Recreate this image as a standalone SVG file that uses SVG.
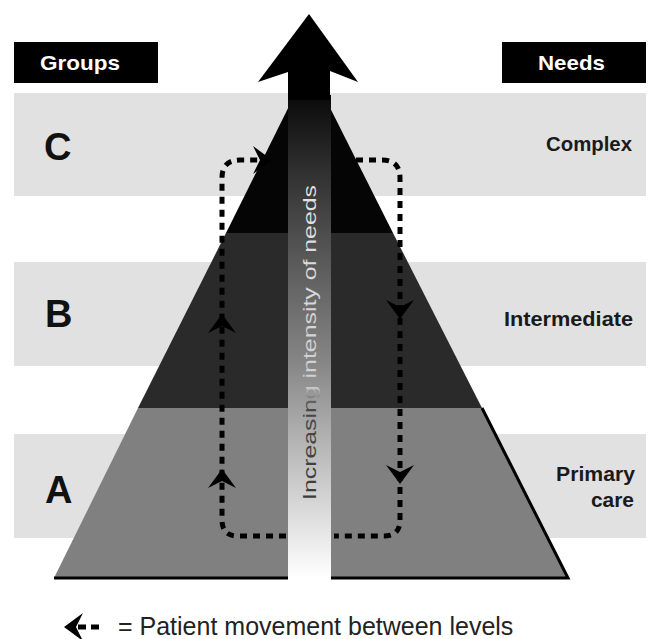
<svg xmlns="http://www.w3.org/2000/svg" width="648" height="639" viewBox="0 0 648 639">
<defs>
<style>
.band{fill:#e1e1e1}
.hdr{fill:#000}
.hdrtxt{font-family:"Liberation Sans",Arial,sans-serif;font-weight:bold;font-size:21px;fill:#fff}
.grp{font-family:"Liberation Sans",Arial,sans-serif;font-weight:bold;font-size:38px;fill:#111}
.need{font-family:"Liberation Sans",Arial,sans-serif;font-weight:bold;font-size:21px;fill:#1a1a1a}
.loop{fill:none;stroke:#000;stroke-width:5;stroke-dasharray:7 6}
.legend{font-family:"Liberation Sans",Arial,sans-serif;font-size:25px;fill:#222}
.strip-text{font-family:"Liberation Sans",Arial,sans-serif;font-size:19px}
</style>
<linearGradient id="stripGrad" gradientUnits="userSpaceOnUse" x1="0" y1="95" x2="0" y2="578">
<stop offset="0" stop-color="#0a0a0a"/>
<stop offset="0.15" stop-color="#2e2e2e"/>
<stop offset="0.3" stop-color="#505050"/>
<stop offset="0.55" stop-color="#858585"/>
<stop offset="0.75" stop-color="#bdbdbd"/>
<stop offset="1" stop-color="#ffffff"/>
</linearGradient>
<linearGradient id="textGrad" gradientUnits="userSpaceOnUse" x1="0" y1="0" x2="315" y2="0">
<stop offset="0" stop-color="#3c3c3c"/>
<stop offset="0.3" stop-color="#484848"/>
<stop offset="0.36" stop-color="#cfcfcf"/>
<stop offset="1" stop-color="#e2e2e2"/>
</linearGradient>
<path id="ah" d="M0,0 L14,19 L0,12 L-14,19 Z" fill="#000"/>
</defs>

<g id="bands">
<rect class="band" x="14" y="93" width="632" height="103"/>
<rect class="band" x="14" y="262" width="632" height="104"/>
<rect class="band" x="14" y="434" width="632" height="104"/>
</g>

<g id="header-groups">
<rect class="hdr" x="14" y="42" width="144" height="41"/>
<text class="hdrtxt" x="40" y="70" textLength="80" lengthAdjust="spacingAndGlyphs">Groups</text>
</g>
<g id="header-needs">
<rect class="hdr" x="502" y="42" width="144" height="41"/>
<text class="hdrtxt" x="538" y="70" textLength="67" lengthAdjust="spacingAndGlyphs">Needs</text>
</g>

<g id="group-labels">
<text class="grp" x="44" y="160">C</text>
<text class="grp" x="45" y="327">B</text>
<text class="grp" x="45" y="503">A</text>
</g>

<g id="need-labels">
<text class="need" x="546" y="151" textLength="86" lengthAdjust="spacingAndGlyphs">Complex</text>
<text class="need" x="504" y="326" textLength="129" lengthAdjust="spacingAndGlyphs">Intermediate</text>
<text class="need" x="556" y="481" textLength="79" lengthAdjust="spacingAndGlyphs">Primary</text>
<text class="need" x="591" y="507" textLength="43" lengthAdjust="spacingAndGlyphs">care</text>
</g>

<g id="level-a">
<polygon points="138,408 482,408 568,578 54,578" fill="#808080"/>
<polyline points="482,408 568,578 54,578" fill="none" stroke="#000" stroke-width="3"/>
</g>
<g id="level-b">
<polygon points="226,233 393,233 482,408 138,408" fill="#2a2a2a"/>
</g>
<g id="level-c">
<polygon points="309,66 393,233 226,233" fill="#050505"/>
</g>

<g id="connectors">
<path class="loop" d="M286,536 H238 Q222,536 222,520 V178 Q222,160 240,160 H258"/>
<path class="loop" d="M356,160 H382 Q400,160 400,178 V520 Q400,536 384,536 H334"/>
<use href="#ah" transform="translate(272,160) rotate(90)"/>
<use href="#ah" transform="translate(222,314)"/>
<use href="#ah" transform="translate(222,469)"/>
<use href="#ah" transform="translate(400,319) rotate(180)"/>
<use href="#ah" transform="translate(400,484) rotate(180)"/>
</g>

<g id="intensity-strip">
<rect x="288" y="95" width="43" height="485" fill="url(#stripGrad)"/>
<text class="strip-text" transform="translate(316,500) rotate(-90)" x="0" y="0" textLength="315" lengthAdjust="spacingAndGlyphs" fill="url(#textGrad)">Increasing intensity of needs</text>
</g>

<g id="arrow">
<polygon points="309,14 358,82 330,71 330,100 288,100 288,72 258,82" fill="#000"/>
</g>

<g id="legend">
<use href="#ah" transform="translate(64,627) rotate(-90)"/>
<line x1="78" y1="627" x2="104" y2="627" stroke="#000" stroke-width="5" stroke-dasharray="8 5"/>
<text class="legend" x="118" y="635">= Patient movement between levels</text>
</g>
</svg>
